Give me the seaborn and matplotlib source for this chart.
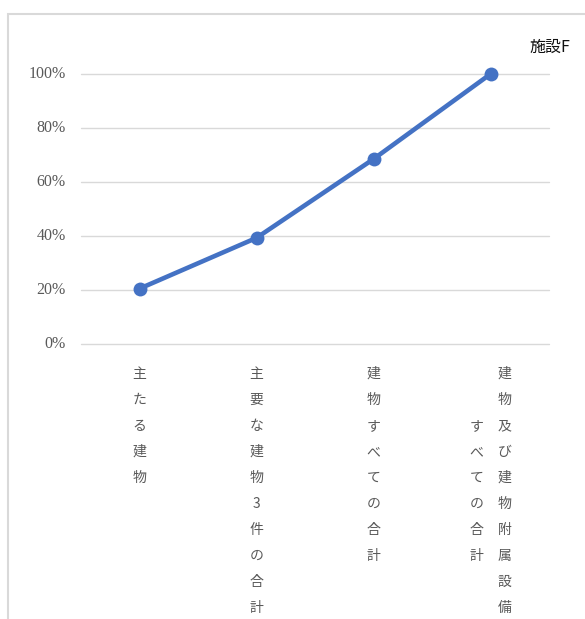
import matplotlib
matplotlib.use("Agg")
import matplotlib.pyplot as plt
from matplotlib.patches import Rectangle
import seaborn as sns
import pandas as pd

# Cumulative share by scope of property
categories = ["主たる建物", "主要な建物3件の合計", "建物すべての合計", "建物及び建物附属設備すべての合計"]
values = [0.205, 0.393, 0.685, 1.0]
y_ticks = [0.0, 0.2, 0.4, 0.6, 0.8, 1.0]
y_tick_labels = ["0%", "20%", "40%", "60%", "80%", "100%"]
series_name = "施設F"

sns.set_theme(style="white")
plt.rcParams["font.family"] = ["Noto Sans CJK JP", "DejaVu Sans"]

W, H = 585, 619
fig = plt.figure(figsize=(W / 100, H / 100), dpi=100)
fig.patch.set_facecolor("white")

# outer chart frame
fig.patches.append(Rectangle((8 / W, -0.1), 1.2, 1 - 14 / H + 0.1, transform=fig.transFigure,
                             fill=False, edgecolor="#d9d9d9", linewidth=1.5))

ax = fig.add_axes([81 / W, (H - 344) / H, 468 / W, 270 / H])
df = pd.DataFrame({"cat": categories, "val": values})
sns.lineplot(data=df, x="cat", y="val", ax=ax, color="#4472C4", linewidth=3.3,
             marker="o", markersize=10, markeredgewidth=0, clip_on=False, sort=False,
             zorder=3)

ax.set_xlim(-0.5, len(categories) - 0.5)
ax.set_ylim(0, 1.0)
ax.set_yticks(y_ticks)
ax.set_yticklabels([])
ax.tick_params(axis="both", length=0)
ax.set_xticks(range(len(categories)))
ax.set_xticklabels([])
ax.set_xlabel("")
ax.set_ylabel("")
for s in ax.spines.values():
    s.set_visible(False)
ax.grid(False)
serif = ["Liberation Serif", "DejaVu Serif"]
for t, lab in zip(y_ticks, y_tick_labels):
    ax.axhline(t, color="#d9d9d9", linewidth=1, clip_on=False, zorder=1)
    ax.annotate(lab, xy=(0, t), xycoords=("axes fraction", "data"),
                xytext=(-11, 0), textcoords="offset points", ha="right", va="center",
                fontsize=11.5, color="#595959", family=serif, annotation_clip=False)

# vertical (stacked) category labels, wrapping into columns right-to-left
max_rows = 10
row_pt = 18.7
col_pt = 10.0
for i, lab in enumerate(categories):
    cols = [lab[k:k + max_rows] for k in range(0, len(lab), max_rows)]
    n = len(cols)
    longest = max(len(c) for c in cols)
    for ci, col in enumerate(cols):
        xoff = ((n - 1) / 2 - ci) * 2 * col_pt if n > 1 else 0
        start = (longest - len(col)) / 2 if n > 1 else 0
        for ri, ch in enumerate(col):
            ax.annotate(ch, xy=(i, 0), xycoords="data",
                        xytext=(xoff, -21.5 - (start + ri) * row_pt), textcoords="offset points",
                        ha="center", va="center", fontsize=10, color="#595959",
                        annotation_clip=False)

fig.text(570 / W, 1 - 47 / H, series_name, ha="right", va="center", fontsize=11.5,
         color="#111111")

fig.savefig("out.png", dpi=100, facecolor="white")
